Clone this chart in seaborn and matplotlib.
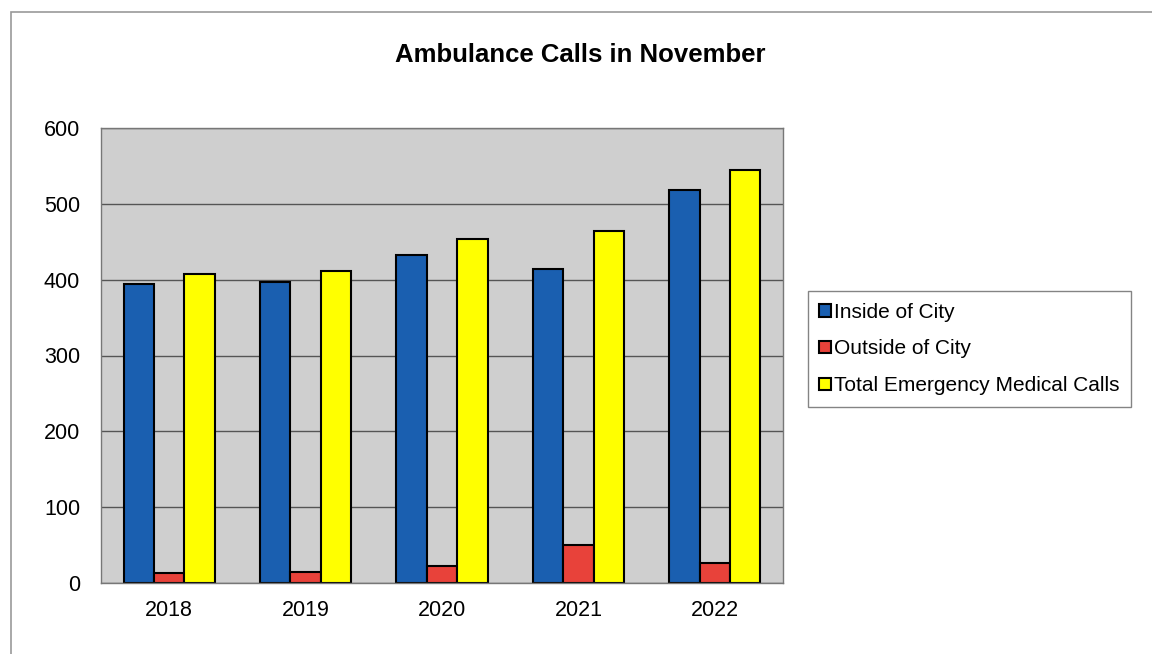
import pandas as pd
import matplotlib.pyplot as plt
import seaborn as sns
from matplotlib.patches import Rectangle, Patch

# values
years = ["2018", "2019", "2020", "2021", "2022"]
inside_city = [394, 397, 432, 414, 518]
outside_city = [13, 14, 22, 50, 26]
total_calls = [407, 411, 454, 464, 544]

series_names = ["Inside of City", "Outside of City", "Total Emergency Medical Calls"]
colors = ["#1a5fb0", "#e8423a", "#ffff00"]

df = pd.DataFrame({
    "Year": years * 3,
    "Series": [series_names[0]] * 5 + [series_names[1]] * 5 + [series_names[2]] * 5,
    "Calls": inside_city + outside_city + total_calls,
})

sns.set_style("white")
plt.rcParams["font.family"] = ["Liberation Sans", "DejaVu Sans"]
plt.rcParams["text.color"] = "black"
plt.rcParams["xtick.color"] = "black"
plt.rcParams["ytick.color"] = "black"

fig = plt.figure(figsize=(11.52, 6.54), dpi=100)
ax = fig.add_axes([101 / 1152, 1 - 583 / 654, (783 - 101) / 1152, (583 - 128) / 654])

sns.barplot(data=df, x="Year", y="Calls", hue="Series", palette=colors,
            saturation=1, width=0.67, gap=0, edgecolor="black", linewidth=1.5,
            ax=ax, legend=False)

ax.set_facecolor("#cfcfcf")
ax.set_ylim(0, 600)
ax.set_xlim(-0.5, 4.5)
ax.set_yticks(range(0, 601, 100))
ax.yaxis.grid(True, color="#555555", linewidth=1)
ax.set_axisbelow(True)
ax.set_xlabel("")
ax.set_ylabel("")
for s in ax.spines.values():
    s.set_color("#777777")
    s.set_linewidth(1)

# tick marks between categories, labels at centres
ax.set_xticks([i + 0.5 for i in range(-1, 5)], minor=False)
ax.set_xticklabels([])
ax.set_xticks(range(5), minor=True)
ax.set_xticklabels(years, minor=True)
ax.tick_params(axis="x", which="major", direction="out", length=6, color="#777777")
ax.tick_params(axis="x", which="minor", length=0, labelsize=15.5, pad=12,
               labelcolor="black")
ax.tick_params(axis="y", direction="out", length=6, color="#777777", labelsize=15.5,
               pad=9, labelcolor="black")

fig.text(580 / 1152, 1 - 55 / 654, "Ambulance Calls in November",
         ha="center", va="center", fontsize=18.5, fontweight="bold", color="black")

handles = [Patch(facecolor=c, edgecolor="black", linewidth=1.5) for c in colors]
leg = fig.legend(handles, series_names, loc="center left",
                 bbox_to_anchor=(808 / 1152, 1 - 349 / 654), fontsize=15,
                 frameon=True, fancybox=False, edgecolor="#666666",
                 handlelength=0.55, handleheight=0.55, handletextpad=0.15,
                 labelspacing=0.85, borderpad=0.55, borderaxespad=0)
for t in leg.get_texts():
    t.set_color("black")

# outer chart border
fig.patches.append(Rectangle((11 / 1152, -0.05), 1.2, 1 - 12 / 654 + 0.05,
                             transform=fig.transFigure, fill=False,
                             edgecolor="#999999", linewidth=1.2))

fig.savefig("out.png", dpi=100)
